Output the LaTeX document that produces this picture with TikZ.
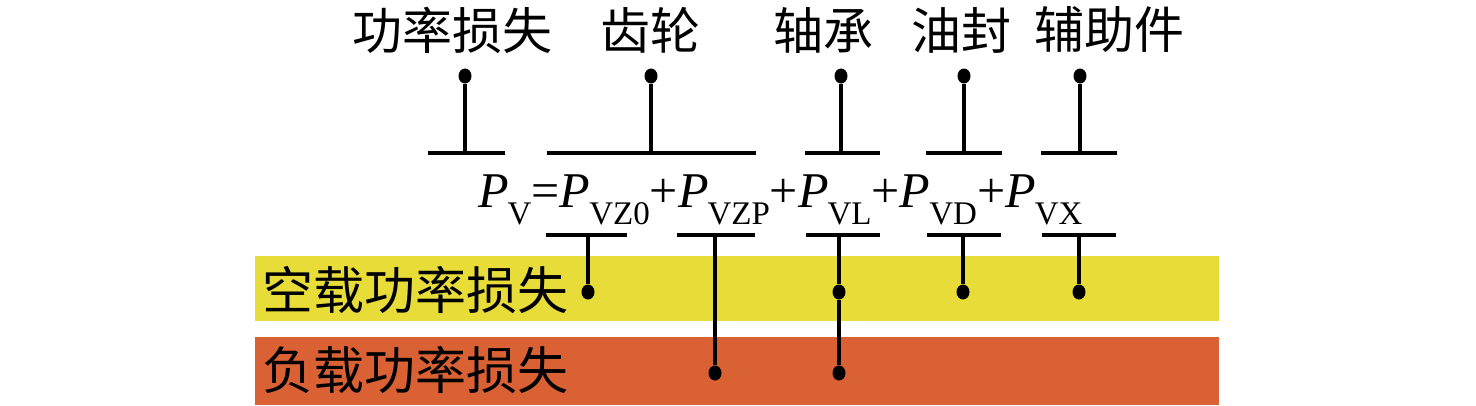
\documentclass[tikz,border=0pt]{standalone}
\usepackage{fontspec}
\setmainfont{Liberation Serif}
\newfontfamily\cjk{Noto Sans CJK SC}
\usepackage{xcolor}
\usetikzlibrary{positioning, shapes.geometric}

\definecolor{noloadyellow}{HTML}{E8DD38}
\definecolor{loadorange}{HTML}{DA6133}

\newcommand{\Psub}[1]{\textit{P}\kern-1pt\raisebox{-17pt}{\fontsize{33}{33}\selectfont #1}}

\begin{document}
\begin{tikzpicture}[x=1pt, y=-1pt,
                    dot/.style={ellipse, fill, inner sep=0pt, minimum width=13pt, minimum height=15pt},
                    stem/.style={line width=3.2pt},
                    bar/.style={line width=4.2pt},
                    cjklabel/.style={inner sep=0pt, font={\cjk\fontsize{50}{50}\selectfont}}]
                
                    \useasboundingbox[fill=white] (0,0) rectangle (1476,405);
                    \fill[noloadyellow] (255,256) rectangle (1219,321);
                    \fill[loadorange] (255,337) rectangle (1219,405);
                
                    % upper labels
                    \node[cjklabel] (loss) at (452,30) {功率损失};
                    \node[cjklabel] (gear) at (650,30) {齿轮};
                    \node[cjklabel] (bear) at (823,30) {轴承};
                    \node[cjklabel] (seal) at (961,30) {油封};
                    \node[cjklabel] (aux) at (1109,30) {辅助件};
                
                    \node[inner sep=0pt, anchor=base west, font={\fontsize{50}{50}\selectfont}] (eq) at (478,207)
                        {\Psub{V}=\Psub{VZ0}+\Psub{VZP}+\Psub{VL}+\Psub{VD}+\Psub{VX}};
                
                    % lower labels
                    \node[cjklabel, font={\cjk\fontsize{51}{51}\selectfont}, anchor=west] (noload) at (262,290) {空载功率损失};
                    \node[cjklabel, font={\cjk\fontsize{51}{51}\selectfont}, anchor=west] (load) at (262,370) {负载功率损失};
                
                    \foreach \n/\x/\l/\r in {loss/465/428/505, gear/651/547/756, bear/841/805/880, seal/964/926/1002, aux/1080/1041/1117} {
                        \node[dot] (\n Top) at (\x,76) {};
                        \coordinate (\n UpL) at (\l,153);
                        \coordinate (\n UpR) at (\r,153);
                        \draw[bar] (\n UpL) -- (\n UpR);
                        \draw[stem] (\n Top) -- (\n UpL -| \n Top);
                    }
                
                    \foreach \n/\x/\l/\r in {zo/588/546/627, zp/715/677/755, vl/839/806/880, vd/963/927/1001, vx/1079/1042/1116} {
                        \coordinate (\n DnL) at (\l,235);
                        \coordinate (\n DnR) at (\r,235);
                        \draw[bar] (\n DnL) -- (\n DnR);
                    }
                
                    \node[dot] (zoA) at (588,292) {};
                    \node[dot] (vlA) at (839,292) {};
                    \node[dot] (vdA) at (963,292) {};
                    \node[dot] (vxA) at (1079,292) {};
                    \node[dot] (zpB) at (715,373) {};
                    \node[dot] (vlB) at (839,373) {};
                
                    \draw[stem] (zoDnL -| zoA) -- (zoA);
                    \draw[stem] (zpDnL -| zpB) -- (zpB);
                    \draw[stem] (vlDnL -| vlA) -- (vlA) -- (vlB);
                    \draw[stem] (vdDnL -| vdA) -- (vdA);
                    \draw[stem] (vxDnL -| vxA) -- (vxA);
                \end{tikzpicture}
\end{document}
